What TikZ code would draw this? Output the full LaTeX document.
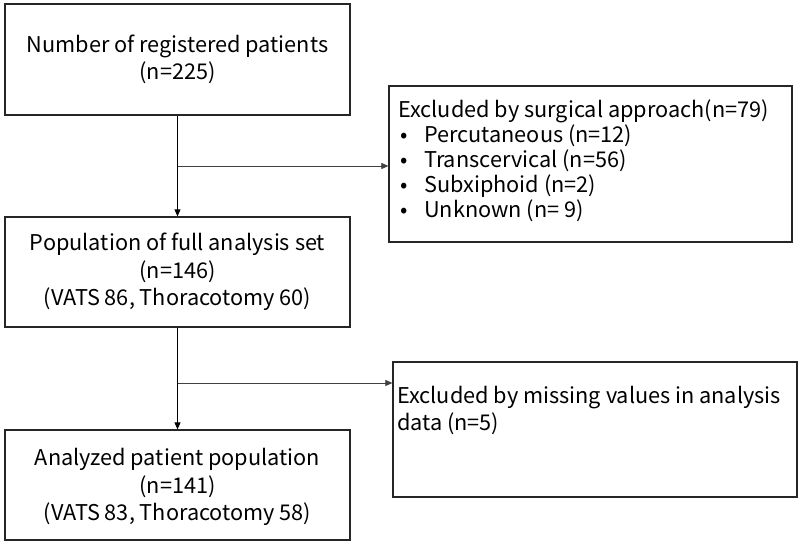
\documentclass[tikz,border=0pt]{standalone}
\usepackage{fontspec}
\setmainfont{Noto Sans CJK JP}
\usetikzlibrary{arrows.meta}
\begin{document}
\begin{tikzpicture}[x=1pt,y=-1pt,
  box/.style={draw=black!85,line width=1.3pt,inner sep=0pt},
  txt/.style={font=\fontsize{21.7}{27.5}\selectfont,align=center,inner sep=0pt},
  ltxt/.style={font=\fontsize{21.7}{25}\selectfont,align=left,inner sep=0pt},
  arr/.style={line width=0.9pt,-{Triangle[length=7pt,width=6pt]}},
  harr/.style={line width=0.7pt,draw=black!75,-{Triangle[length=7pt,width=6pt]}}]
\useasboundingbox (0,0) rectangle (800,545);
\node[box,minimum width=345pt,minimum height=111pt] (b1) at (177.5,59.5) {};
\node[txt] (t1) at (177.5,59.5) {Number of registered patients\\(n=225)};
\node[box,minimum width=345pt,minimum height=110pt] (b2) at (177.5,272) {};
\node[txt] (t2) at (177.5,272) {Population of full analysis set\\(n=146)\\(VATS 86, Thoracotomy 60)};
\node[box,minimum width=345pt,minimum height=110pt] (b3) at (177.5,485) {};
\node[txt] (t3) at (177.5,487) {Analyzed patient population\\(n=141)\\(VATS 83, Thoracotomy 58)};
\node[box,minimum width=403pt,minimum height=156pt] (e1) at (590.5,164) {};
\node[ltxt,anchor=west] (te1) at (398,161) {Excluded by surgical approach(n=79)\\
\hbox to 26pt{\hspace{2pt}•\hfill}Percutaneous (n=12)\\
\hbox to 26pt{\hspace{2pt}•\hfill}Transcervical (n=56)\\
\hbox to 26pt{\hspace{2pt}•\hfill}Subxiphoid (n=2)\\
\hbox to 26pt{\hspace{2pt}•\hfill}Unknown (n= 9)};
\node[box,minimum width=404pt,minimum height=135pt] (e2) at (595,429.5) {};
\node[ltxt,anchor=west,font=\fontsize{21.7}{27}\selectfont] (te2) at (397,410) {Excluded by missing values in analysis\\data (n=5)};
\coordinate (j1) at (b1.south |- 0,166);
\coordinate (j2) at (b2.south |- 0,383);
\draw[arr] (b1.south) -- (b2.north);
\draw[arr] (b2.south) -- (b3.north);
\draw[harr] (j1) -- (e1.west |- j1);
\draw[harr] (j2) -- (e2.west |- j2);
\end{tikzpicture}
\end{document}
